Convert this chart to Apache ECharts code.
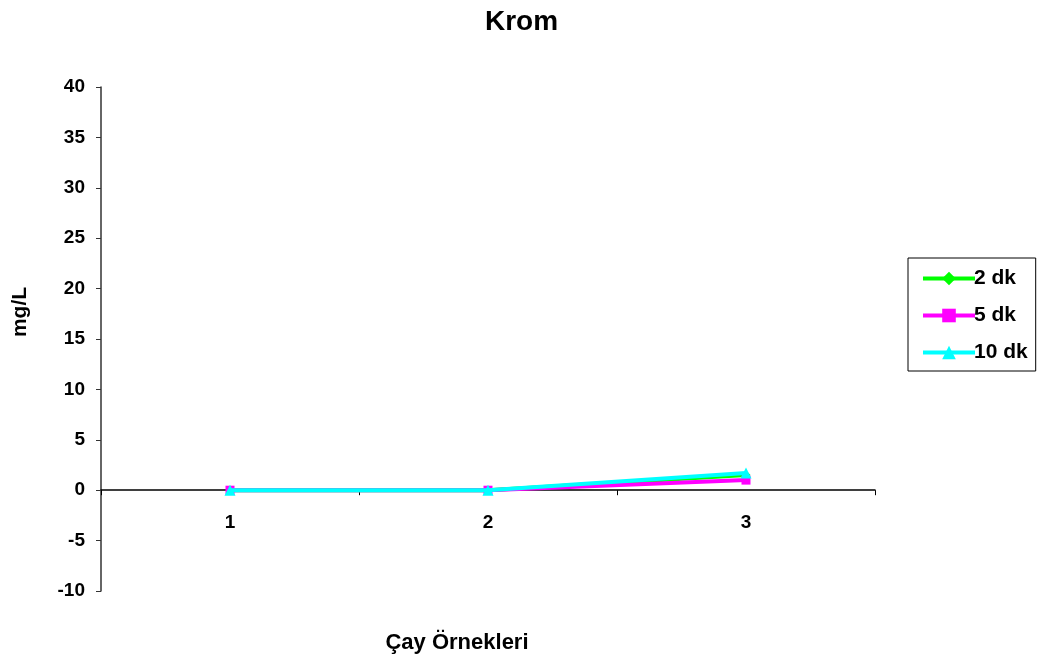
<!DOCTYPE html>
<html>
<head>
<meta charset="utf-8">
<script src="https://cdn.jsdelivr.net/npm/echarts@6/dist/echarts.min.js"></script>
<style>
  html, body { margin: 0; padding: 0; background: #fff; }
  #chart { width: 1043px; height: 662px; }
</style>
</head>
<body>
<div id="chart"></div>
<script>
// Chromium concentration per tea sample at three brewing times
const categories = ['1', '2', '3'];
const seriesNames = ['2 dk', '5 dk', '10 dk'];
const values2dk = [0, 0, 1.5];
const values5dk = [0, 0, 1.0];
const values10dk = [0, 0, 1.7];
const colors = ['#00ff00', '#ff00ff', '#00ffff'];
const symbols = ['diamond', 'rect', 'triangle'];
const yTicks = { min: -10, max: 40, interval: 5 };

const font = 'Arial, "Liberation Sans", sans-serif';
const chart = echarts.init(document.getElementById('chart'));

const seriesData = [values2dk, values5dk, values10dk];

// plot area
const gridTop = 87;
const gridHeight = 504;
// shift the category axis up so it sits on y = 0
const zeroOffset = -gridHeight * (0 - yTicks.min) / (yTicks.max - yTicks.min);

chart.setOption({
  animation: false,
  backgroundColor: '#ffffff',
  title: {
    text: 'Krom',
    left: 'center',
    top: 3,
    textStyle: { fontFamily: font, fontWeight: 'bold', fontSize: 28, color: '#000' }
  },
  legend: {
    orient: 'vertical',
    left: 908,
    top: 258,
    padding: [10, 8, 8, 13],
    itemGap: 16,
    itemWidth: 52,
    itemHeight: 17,
    borderColor: '#000',
    borderWidth: 1,
    data: seriesNames,
    lineStyle: { width: 4 },
    textStyle: { fontFamily: font, fontWeight: 'bold', fontSize: 21, color: '#000', padding: [0, 0, 0, -6] }
  },
  grid: { left: 101, top: gridTop, width: 774, height: gridHeight, containLabel: false, outerBoundsMode: 'none' },
  xAxis: {
    type: 'category',
    data: categories,
    boundaryGap: true,
    position: 'bottom',
    offset: zeroOffset,
    name: 'Çay Örnekleri',
    nameLocation: 'middle',
    nameGap: 142,
    nameTextStyle: { fontFamily: font, fontWeight: 'bold', fontSize: 22, color: '#000', padding: [0, 62, 0, 0] },
    axisLine: { onZero: false, lineStyle: { color: '#000', width: 1.5 } },
    axisTick: { show: true, inside: false, length: 5, lineStyle: { color: '#000' } },
    axisLabel: { margin: 23, fontFamily: font, fontWeight: 'bold', fontSize: 19, color: '#000' },
    splitLine: { show: false }
  },
  yAxis: {
    type: 'value',
    min: yTicks.min,
    max: yTicks.max,
    interval: yTicks.interval,
    name: 'mg/L',
    nameLocation: 'middle',
    nameGap: 70,
    nameRotate: 90,
    nameTextStyle: { fontFamily: font, fontWeight: 'bold', fontSize: 21, color: '#000', padding: [0, 0, 0, 54] },
    axisLine: { show: true, lineStyle: { color: '#333', width: 1.5 } },
    axisTick: { show: true, length: 5, lineStyle: { color: '#333' } },
    axisLabel: { margin: 16, fontFamily: font, fontWeight: 'bold', fontSize: 19, color: '#000' },
    splitLine: { show: false }
  },
  series: seriesNames.map((name, i) => ({
    name: name,
    type: 'line',
    data: seriesData[i],
    symbol: symbols[i],
    symbolSize: i === 2 ? 11 : 9,
    showSymbol: true,
    lineStyle: { color: colors[i], width: 4 },
    itemStyle: { color: colors[i] },
    z: 2 + i
  }))
});
</script>
</body>
</html>
